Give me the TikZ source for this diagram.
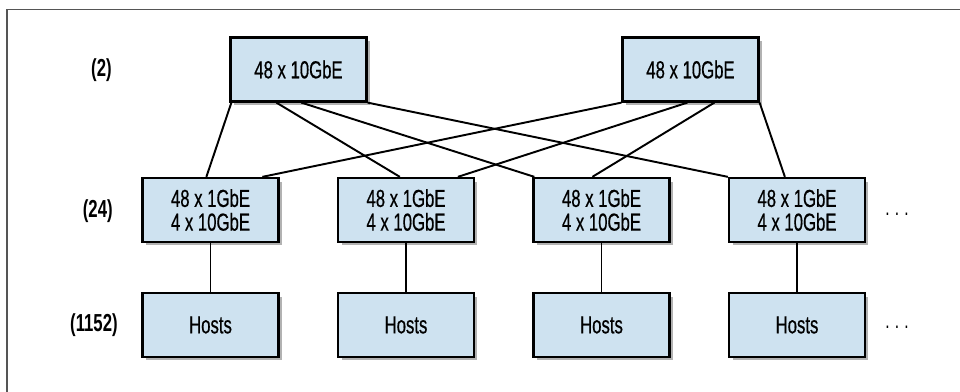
\documentclass[tikz,border=0pt]{standalone}
\usepackage{fontspec}
\setmainfont{Liberation Sans}[FakeStretch=0.68]
\newfontfamily\boxfont{Liberation Sans}[FakeStretch=0.68, FakeBold=0.5]
\usetikzlibrary{calc,shadows}

\definecolor{boxblue}{RGB}{206,226,240}
\definecolor{framegray}{RGB}{85,85,85}

\tikzset{
 switchbox/.style={draw=black, line width=1.3pt, fill=boxblue,
  minimum width=2.72cm, minimum height=1.28cm, inner sep=0pt, align=center,
  font=\boxfont\fontsize{14}{13.5}\selectfont,
  drop shadow={shadow xshift=0.07cm, shadow yshift=-0.07cm, opacity=0.3, fill=black}},
 link/.style={line width=1.1pt},
 tier/.style={anchor=east, inner sep=0pt, font=\bfseries\fontsize{14}{14}\selectfont},
 more/.style={inner sep=0pt, font=\fontsize{13}{13}\selectfont}
}

\begin{document}
\begin{tikzpicture}
 \def\a{0.02}
 \useasboundingbox (0,0) rectangle (960*\a, -392*\a);

 %Frame
 \draw[framegray, line width=0.85pt] (960*\a, -9.5*\a) -- (7*\a, -9.5*\a) -- (7*\a, -392*\a);

 %Tier labels
 \node[tier] (n2) at (112*\a, -70*\a) {(2)};
 \node[tier] (n24) at (113*\a, -211*\a) {(24)};
 \node[tier] (n1152) at (118*\a, -325*\a) {(1152)};

 %Top switches
 \node[switchbox] (tl) at (298.5*\a, -69.5*\a) {48 x 10GbE};
 \node[switchbox] (tr) at (690.5*\a, -69.5*\a) {48 x 10GbE};

 %Access switches and hosts
 \foreach \i/\x in {1/210.5, 2/406, 3/601.5, 4/797} {
  \node[switchbox] (m\i) at (\x*\a, -210*\a) {48 x 1GbE\\4 x 10GbE};
  \node[switchbox] (h\i) at (\x*\a, -325*\a) {Hosts};
 }
 \node[more] (dots1) at (897*\a, -214*\a) {.\hspace{3pt}.\hspace{3pt}.};
 \node[more] (dots2) at (897*\a, -327*\a) {.\hspace{3pt}.\hspace{3pt}.};

 %Uplinks
 \draw[link] ($(tl.south west)+(2*\a,0)$) -- ($(m1.north west)+(65*\a,0)$);
 \draw[link] ($(tl.south west)+(47*\a,0)$) -- ($(m2.north west)+(63*\a,0)$);
 \draw[link] ($(tl.south west)+(72*\a,0)$) -- ($(m3.north west)+(2*\a,0)$);
 \draw[link] (tl.south east) -- (m4.north west);
 \draw[link] (tr.south west) -- ($(m1.north west)+(121*\a,0)$);
 \draw[link] ($(tr.south west)+(66*\a,0)$) -- ($(m2.north west)+(121*\a,0)$);
 \draw[link] ($(tr.south west)+(93*\a,0)$) -- ($(m3.north west)+(60*\a,0)$);
 \draw[link] (tr.south east) -- ($(m4.north west)+(57*\a,0)$);

 %Host links
 \foreach \i in {1,...,4}
  \draw[link] (m\i) -- (h\i);
\end{tikzpicture}
\end{document}
